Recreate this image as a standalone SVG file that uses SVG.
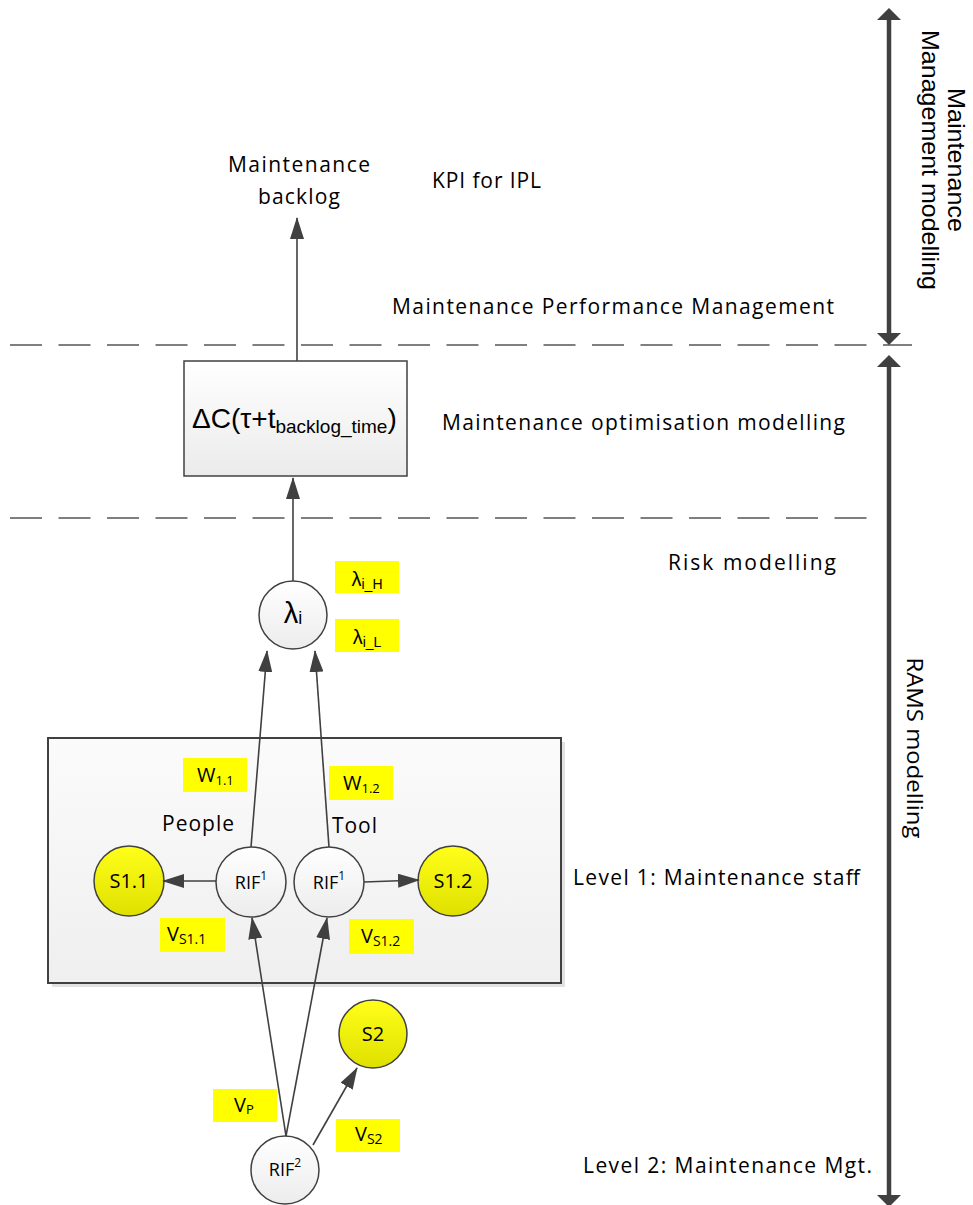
<svg xmlns="http://www.w3.org/2000/svg" width="973" height="1205" viewBox="0 0 973 1205">
<defs>
<linearGradient id="gBox" x1="0" y1="0" x2="0" y2="1"><stop offset="0" stop-color="#ffffff"/><stop offset="1" stop-color="#ebebeb"/></linearGradient>
<linearGradient id="gPanel" x1="0" y1="0" x2="0" y2="1"><stop offset="0" stop-color="#fbfbfb"/><stop offset="1" stop-color="#efefef"/></linearGradient>
<linearGradient id="gWhite" x1="0" y1="0" x2="0" y2="1"><stop offset="0" stop-color="#ffffff"/><stop offset="1" stop-color="#ececec"/></linearGradient>
<linearGradient id="gYellow" x1="0" y1="0" x2="0" y2="1"><stop offset="0" stop-color="#ffff1a"/><stop offset="1" stop-color="#e0e000"/></linearGradient>
<marker id="ah" markerUnits="userSpaceOnUse" viewBox="0 0 22 14" markerWidth="22" markerHeight="14" refX="21" refY="7" orient="auto"><path d="M0,0 L22,7 L0,14 z" fill="#404040"/></marker>
<marker id="big" markerUnits="userSpaceOnUse" viewBox="0 0 12 24" markerWidth="12" markerHeight="24" refX="0" refY="12" orient="auto-start-reverse"><path d="M0,0 L12,12 L0,24 z" fill="#404040"/></marker>
</defs>
<style>
.t{font-family:"Liberation Sans",Arial,sans-serif;fill:#000}
.o{font-family:"Open Sans","Liberation Sans",sans-serif;fill:#000}
.lbl{font-size:21px}
.node{stroke:#404040;stroke-width:1.5}
.conn{stroke:#404040;stroke-width:1.6;fill:none;marker-end:url(#ah)}
.dash{stroke:#555;stroke-width:1.5;stroke-dasharray:32 16.5;fill:none}
.tag{fill:#ffff00}
</style>
<rect width="973" height="1205" fill="#ffffff"/>

<g id="layers">
<line class="dash" x1="10" y1="345" x2="867" y2="345"/>
<line x1="883" y1="345" x2="912" y2="345" stroke="#555" stroke-width="1.5"/>
<line class="dash" x1="10" y1="518" x2="867" y2="518"/>
</g>

<g id="scale-arrows" stroke="#404040" stroke-width="4.5" marker-start="url(#big)" marker-end="url(#big)">
<line x1="889" y1="20" x2="889" y2="333"/>
<line x1="889" y1="367" x2="889" y2="1195"/>
</g>

<g id="side-labels" class="t">
<text transform="translate(948,160) rotate(90)" text-anchor="middle" font-size="24" textLength="144" lengthAdjust="spacingAndGlyphs">Maintenance</text>
<text transform="translate(922,160) rotate(90)" text-anchor="middle" font-size="24" textLength="260" lengthAdjust="spacingAndGlyphs">Management modelling</text>
<text class="o" transform="translate(907,748) rotate(90)" text-anchor="middle" font-size="22" textLength="181" lengthAdjust="spacingAndGlyphs">RAMS modelling</text>
</g>

<g id="labels" class="o lbl">
<text x="228" y="172" textLength="142">Maintenance</text>
<text x="258" y="204" textLength="82">backlog</text>
<text x="432" y="188" textLength="109">KPI for IPL</text>
<text x="392" y="314" textLength="442">Maintenance Performance Management</text>
<text x="442" y="430" textLength="403">Maintenance optimisation modelling</text>
<text x="668" y="570" textLength="168">Risk modelling</text>
<text x="573" y="885" textLength="287">Level 1: Maintenance staff</text>
<text x="583" y="1173" textLength="289">Level 2: Maintenance Mgt.</text>
</g>

<g id="level1-panel">
<rect x="52" y="742" width="513" height="245" fill="#e2e2e2"/>
<rect x="48" y="738" width="513" height="245" fill="url(#gPanel)" stroke="#404040" stroke-width="2"/>
<text class="o lbl" x="162" y="831" textLength="72">People</text>
<text class="o lbl" x="332" y="833" textLength="45">Tool</text>
</g>

<g id="cost-box">
<rect class="node" x="184" y="361" width="223" height="115" fill="url(#gBox)"/>
<text class="t" x="192" y="428" font-size="28">ΔC(τ+t<tspan font-size="19" dy="5">backlog_time</tspan><tspan dy="-5">)</tspan></text>
</g>

<g id="lambda">
<circle class="node" cx="293" cy="615" r="34" fill="url(#gWhite)"/>
<text class="t" x="293" y="623" font-size="29" text-anchor="middle">λ<tspan font-size="18" dy="1">i</tspan></text>
</g>

<g id="tag-lambda-H"><rect class="tag" x="335" y="561" width="64" height="32"/><text class="t" x="367" y="586" font-size="20" text-anchor="middle">λ<tspan font-size="14" dy="3">i_H</tspan></text></g>
<g id="tag-lambda-L"><rect class="tag" x="335" y="619" width="64" height="33"/><text class="t" x="367" y="644" font-size="20" text-anchor="middle">λ<tspan font-size="14" dy="3">i_L</tspan></text></g>

<g id="s11"><circle class="node" cx="129" cy="881" r="35" fill="url(#gYellow)"/><text class="o" x="129" y="888" font-size="20" text-anchor="middle">S1.1</text></g>
<g id="rif1-people"><circle class="node" cx="251" cy="882" r="35" fill="url(#gWhite)"/><text class="o" x="251" y="889" font-size="18" text-anchor="middle">RIF<tspan font-size="12" dy="-9">1</tspan></text></g>
<g id="rif1-tool"><circle class="node" cx="329" cy="882" r="35" fill="url(#gWhite)"/><text class="o" x="329" y="889" font-size="18" text-anchor="middle">RIF<tspan font-size="12" dy="-9">1</tspan></text></g>
<g id="s12"><circle class="node" cx="453" cy="881" r="35" fill="url(#gYellow)"/><text class="o" x="453" y="888" font-size="20" text-anchor="middle">S1.2</text></g>
<g id="s2"><circle class="node" cx="373" cy="1034" r="34" fill="url(#gYellow)"/><text class="o" x="373" y="1041" font-size="20" text-anchor="middle">S2</text></g>
<g id="rif2"><circle class="node" cx="285" cy="1170" r="34" fill="url(#gWhite)"/><text class="o" x="285" y="1176" font-size="18" text-anchor="middle">RIF<tspan font-size="12" dy="-9">2</tspan></text></g>

<g id="tag-w11"><rect class="tag" x="183" y="758" width="64" height="34"/><text class="o" x="197" y="782" font-size="20">W<tspan font-size="13" dy="3">1.1</tspan></text></g>
<g id="tag-w12"><rect class="tag" x="329" y="766" width="64" height="34"/><text class="o" x="343" y="790" font-size="20">W<tspan font-size="13" dy="3">1.2</tspan></text></g>
<g id="tag-vs11"><rect class="tag" x="160" y="918" width="65" height="34"/><text class="o" x="167" y="941" font-size="20">V<tspan font-size="14" dy="3">S1.1</tspan></text></g>
<g id="tag-vs12"><rect class="tag" x="349" y="919" width="65" height="35"/><text class="o" x="361" y="943" font-size="20">V<tspan font-size="14" dy="3">S1.2</tspan></text></g>
<g id="tag-vp"><rect class="tag" x="213" y="1089" width="64" height="33"/><text class="o" x="234" y="1112" font-size="20">V<tspan font-size="13" dy="2">P</tspan></text></g>
<g id="tag-vs2"><rect class="tag" x="336" y="1119" width="64" height="33"/><text class="o" x="355" y="1141" font-size="20">V<tspan font-size="14" dy="3">S2</tspan></text></g>

<g id="connectors">
<line class="conn" x1="297" y1="361" x2="297" y2="218"/>
<line class="conn" x1="293" y1="581" x2="293" y2="478"/>
<line class="conn" x1="251" y1="847" x2="267" y2="651"/>
<line class="conn" x1="329" y1="847" x2="315" y2="651"/>
<line class="conn" x1="216" y1="881" x2="163" y2="881"/>
<line class="conn" x1="364" y1="882" x2="419" y2="880"/>
<line class="conn" x1="286" y1="1136" x2="252" y2="918"/>
<line class="conn" x1="286" y1="1136" x2="327" y2="918"/>
<line class="conn" x1="313" y1="1145" x2="357" y2="1068"/>
</g>
</svg>
